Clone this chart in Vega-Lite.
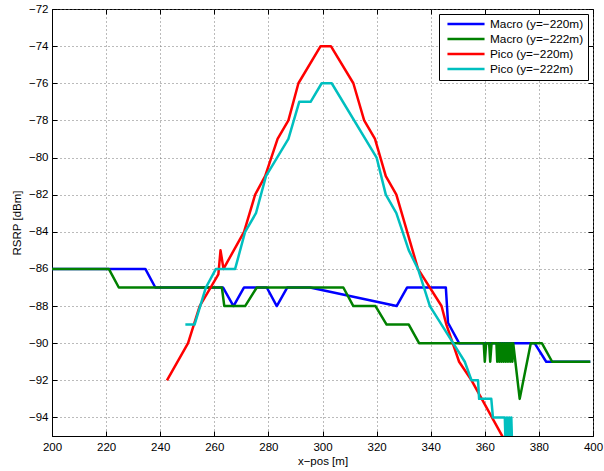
{
  "$schema": "https://vega.github.io/schema/vega-lite/v6.json",
  "width": 541,
  "height": 427,
  "autosize": "none",
  "padding": {"left": 52, "top": 9, "right": 11, "bottom": 35},
  "config": {
    "font": "Liberation Sans",
    "view": {"stroke": "black", "strokeWidth": 1},
    "axis": {
      "domainColor": "black",
      "tickColor": "black",
      "labelColor": "black",
      "titleColor": "black",
      "labelFontSize": 11.5,
      "titleFontSize": 11.5,
      "titleFontWeight": "normal",
      "labelFlush": false,
      "tickSize": -5,
      "gridColor": "#777",
      "gridDash": [1, 3],
      "gridWidth": 1
    },
    "legend": {
      "orient": "top-right",
      "offset": 5,
      "strokeColor": "black",
      "fillColor": "white",
      "padding": 4,
      "labelFontSize": 11.8,
      "labelColor": "black",
      "symbolType": "M-4,0H4",
      "symbolSize": 86,
      "symbolStrokeWidth": 2.5,
      "symbolOffset": 17,
      "rowPadding": 2,
      "labelOffset": 18,
      "title": null
    }
  },
  "data": {"values": [
    {"s": "Macro (y=−220m)", "x": 200, "y": -86},
    {"s": "Macro (y=−220m)", "x": 234.5, "y": -86},
    {"s": "Macro (y=−220m)", "x": 238.2, "y": -87},
    {"s": "Macro (y=−220m)", "x": 263.2, "y": -87},
    {"s": "Macro (y=−220m)", "x": 267.1, "y": -88},
    {"s": "Macro (y=−220m)", "x": 271, "y": -87},
    {"s": "Macro (y=−220m)", "x": 279.4, "y": -87},
    {"s": "Macro (y=−220m)", "x": 283.1, "y": -88},
    {"s": "Macro (y=−220m)", "x": 287, "y": -87},
    {"s": "Macro (y=−220m)", "x": 295.4, "y": -87},
    {"s": "Macro (y=−220m)", "x": 327.4, "y": -88},
    {"s": "Macro (y=−220m)", "x": 331.3, "y": -87},
    {"s": "Macro (y=−220m)", "x": 345.6, "y": -87},
    {"s": "Macro (y=−220m)", "x": 346.4, "y": -88.9},
    {"s": "Macro (y=−220m)", "x": 350.5, "y": -90},
    {"s": "Macro (y=−220m)", "x": 378.4, "y": -90},
    {"s": "Macro (y=−220m)", "x": 382.7, "y": -91},
    {"s": "Macro (y=−220m)", "x": 399, "y": -91},
    {"s": "Macro (y=−222m)", "x": 200, "y": -86},
    {"s": "Macro (y=−222m)", "x": 221, "y": -86},
    {"s": "Macro (y=−222m)", "x": 224.7, "y": -87},
    {"s": "Macro (y=−222m)", "x": 262.8, "y": -87},
    {"s": "Macro (y=−222m)", "x": 263.7, "y": -88},
    {"s": "Macro (y=−222m)", "x": 271.4, "y": -88},
    {"s": "Macro (y=−222m)", "x": 275.7, "y": -87},
    {"s": "Macro (y=−222m)", "x": 307.7, "y": -87},
    {"s": "Macro (y=−222m)", "x": 311.4, "y": -88},
    {"s": "Macro (y=−222m)", "x": 319.6, "y": -88},
    {"s": "Macro (y=−222m)", "x": 323.7, "y": -89},
    {"s": "Macro (y=−222m)", "x": 331.9, "y": -89},
    {"s": "Macro (y=−222m)", "x": 335.7, "y": -90},
    {"s": "Macro (y=−222m)", "x": 359.6, "y": -90},
    {"s": "Macro (y=−222m)", "x": 360, "y": -91},
    {"s": "Macro (y=−222m)", "x": 360.5, "y": -90},
    {"s": "Macro (y=−222m)", "x": 361.6, "y": -90},
    {"s": "Macro (y=−222m)", "x": 362, "y": -91},
    {"s": "Macro (y=−222m)", "x": 362.5, "y": -90},
    {"s": "Macro (y=−222m)", "x": 364.3, "y": -90},
    {"s": "Macro (y=−222m)", "x": 364.6, "y": -91},
    {"s": "Macro (y=−222m)", "x": 365, "y": -90},
    {"s": "Macro (y=−222m)", "x": 365.4, "y": -91},
    {"s": "Macro (y=−222m)", "x": 365.8, "y": -90},
    {"s": "Macro (y=−222m)", "x": 366.2, "y": -91},
    {"s": "Macro (y=−222m)", "x": 366.6, "y": -90},
    {"s": "Macro (y=−222m)", "x": 367, "y": -91},
    {"s": "Macro (y=−222m)", "x": 367.4, "y": -90},
    {"s": "Macro (y=−222m)", "x": 367.8, "y": -91},
    {"s": "Macro (y=−222m)", "x": 368.2, "y": -90},
    {"s": "Macro (y=−222m)", "x": 368.6, "y": -91},
    {"s": "Macro (y=−222m)", "x": 369, "y": -90},
    {"s": "Macro (y=−222m)", "x": 369.4, "y": -91},
    {"s": "Macro (y=−222m)", "x": 369.8, "y": -90},
    {"s": "Macro (y=−222m)", "x": 370.2, "y": -91},
    {"s": "Macro (y=−222m)", "x": 370.5, "y": -90},
    {"s": "Macro (y=−222m)", "x": 372.9, "y": -93},
    {"s": "Macro (y=−222m)", "x": 377, "y": -90},
    {"s": "Macro (y=−222m)", "x": 381.1, "y": -90},
    {"s": "Macro (y=−222m)", "x": 384.9, "y": -91},
    {"s": "Macro (y=−222m)", "x": 399, "y": -91},
    {"s": "Pico (y=−220m)", "x": 242.5, "y": -92},
    {"s": "Pico (y=−220m)", "x": 250.3, "y": -90},
    {"s": "Pico (y=−220m)", "x": 254.6, "y": -88},
    {"s": "Pico (y=−220m)", "x": 261.5, "y": -86.3},
    {"s": "Pico (y=−220m)", "x": 262.3, "y": -85},
    {"s": "Pico (y=−220m)", "x": 263.4, "y": -86},
    {"s": "Pico (y=−220m)", "x": 271, "y": -84},
    {"s": "Pico (y=−220m)", "x": 275.1, "y": -82},
    {"s": "Pico (y=−220m)", "x": 278.8, "y": -81},
    {"s": "Pico (y=−220m)", "x": 283.4, "y": -79},
    {"s": "Pico (y=−220m)", "x": 287.4, "y": -78},
    {"s": "Pico (y=−220m)", "x": 291.1, "y": -76},
    {"s": "Pico (y=−220m)", "x": 299.3, "y": -74},
    {"s": "Pico (y=−220m)", "x": 303.1, "y": -74},
    {"s": "Pico (y=−220m)", "x": 311.4, "y": -76},
    {"s": "Pico (y=−220m)", "x": 315.4, "y": -78},
    {"s": "Pico (y=−220m)", "x": 319.4, "y": -79},
    {"s": "Pico (y=−220m)", "x": 323.4, "y": -81},
    {"s": "Pico (y=−220m)", "x": 327.3, "y": -82},
    {"s": "Pico (y=−220m)", "x": 335.3, "y": -86},
    {"s": "Pico (y=−220m)", "x": 344, "y": -88},
    {"s": "Pico (y=−220m)", "x": 345.8, "y": -89},
    {"s": "Pico (y=−220m)", "x": 350.5, "y": -91},
    {"s": "Pico (y=−220m)", "x": 355.1, "y": -92},
    {"s": "Pico (y=−220m)", "x": 367.2, "y": -95.2},
    {"s": "Pico (y=−222m)", "x": 249.3, "y": -89},
    {"s": "Pico (y=−222m)", "x": 252.7, "y": -89},
    {"s": "Pico (y=−222m)", "x": 256.9, "y": -87},
    {"s": "Pico (y=−222m)", "x": 260.6, "y": -86},
    {"s": "Pico (y=−222m)", "x": 267.7, "y": -86},
    {"s": "Pico (y=−222m)", "x": 271.4, "y": -84},
    {"s": "Pico (y=−222m)", "x": 275.4, "y": -83},
    {"s": "Pico (y=−222m)", "x": 279.1, "y": -81},
    {"s": "Pico (y=−222m)", "x": 287.4, "y": -79},
    {"s": "Pico (y=−222m)", "x": 291.4, "y": -77},
    {"s": "Pico (y=−222m)", "x": 295.6, "y": -77},
    {"s": "Pico (y=−222m)", "x": 299.7, "y": -76},
    {"s": "Pico (y=−222m)", "x": 303.4, "y": -76},
    {"s": "Pico (y=−222m)", "x": 320, "y": -80},
    {"s": "Pico (y=−222m)", "x": 323.4, "y": -82},
    {"s": "Pico (y=−222m)", "x": 327.3, "y": -83},
    {"s": "Pico (y=−222m)", "x": 331.9, "y": -85},
    {"s": "Pico (y=−222m)", "x": 335.3, "y": -86},
    {"s": "Pico (y=−222m)", "x": 339.7, "y": -88},
    {"s": "Pico (y=−222m)", "x": 348.3, "y": -90},
    {"s": "Pico (y=−222m)", "x": 352.6, "y": -91},
    {"s": "Pico (y=−222m)", "x": 355.1, "y": -92},
    {"s": "Pico (y=−222m)", "x": 357.5, "y": -92},
    {"s": "Pico (y=−222m)", "x": 357.9, "y": -93},
    {"s": "Pico (y=−222m)", "x": 362.4, "y": -93},
    {"s": "Pico (y=−222m)", "x": 363, "y": -94},
    {"s": "Pico (y=−222m)", "x": 367.4, "y": -94},
    {"s": "Pico (y=−222m)", "x": 367.8, "y": -96},
    {"s": "Pico (y=−222m)", "x": 368.2, "y": -94},
    {"s": "Pico (y=−222m)", "x": 368.6, "y": -96},
    {"s": "Pico (y=−222m)", "x": 369, "y": -94},
    {"s": "Pico (y=−222m)", "x": 369.4, "y": -96},
    {"s": "Pico (y=−222m)", "x": 369.8, "y": -94},
    {"s": "Pico (y=−222m)", "x": 370.2, "y": -96}
  ]},
  "layer": [
    {
      "mark": {"type": "line", "strokeWidth": 2.5, "clip": true, "strokeJoin": "round"},
      "encoding": {
        "x": {"field": "x", "type": "quantitative", "scale": {"domain": [200, 400], "nice": false, "zero": false},
              "axis": {"values": [200, 220, 240, 260, 280, 300, 320, 340, 360, 380, 400], "title": "x−pos [m]", "grid": true, "labelPadding": 10, "titlePadding": 3}},
        "y": {"field": "y", "type": "quantitative", "scale": {"domain": [-95, -72], "nice": false, "zero": false},
              "axis": {"values": [-94, -92, -90, -88, -86, -84, -82, -80, -78, -76, -74, -72], "title": "RSRP [dBm]", "grid": true, "labelPadding": 9, "titlePadding": 6}},
        "color": {"field": "s", "type": "nominal",
                  "scale": {"domain": ["Macro (y=−220m)", "Macro (y=−222m)", "Pico (y=−220m)", "Pico (y=−222m)"], "range": ["#0000ff", "#008000", "#ff0000", "#00bfbf"]}}
      }
    },
    {
      "mark": {"type": "point", "opacity": 0},
      "encoding": {
        "x": {"field": "x", "type": "quantitative", "axis": {"orient": "top", "values": [200, 220, 240, 260, 280, 300, 320, 340, 360, 380, 400], "labels": false, "title": null, "grid": false, "domain": false}},
        "y": {"field": "y", "type": "quantitative", "axis": {"orient": "right", "values": [-94, -92, -90, -88, -86, -84, -82, -80, -78, -76, -74, -72], "labels": false, "title": null, "grid": false, "domain": false}}
      }
    }
  ],
  "resolve": {"axis": {"x": "independent", "y": "independent"}}
}
